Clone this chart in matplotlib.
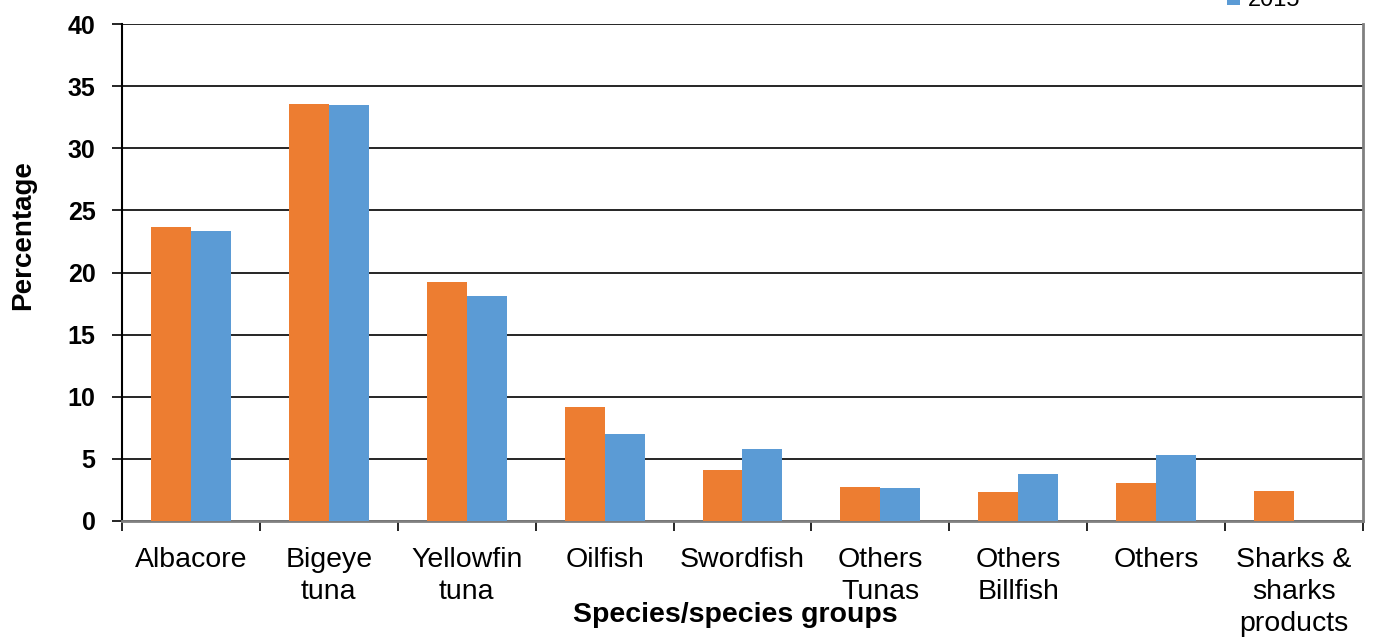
import matplotlib
matplotlib.use("Agg")
import matplotlib.pyplot as plt
import numpy as np
from matplotlib.ticker import FixedLocator

categories = ["Albacore", "Bigeye\ntuna", "Yellowfin\ntuna", "Oilfish", "Swordfish",
              "Others\nTunas", "Others\nBillfish", "Others", "Sharks &\nsharks\nproducts"]
series_names = ["2014", "2015"]
values_2014 = [23.7, 33.6, 19.2, 9.2, 4.1, 2.75, 2.35, 3.05, 2.4]
values_2015 = [23.3, 33.5, 18.1, 7.0, 5.8, 2.65, 3.8, 5.3, 0.0]
yticks = [0, 5, 10, 15, 20, 25, 30, 35, 40]

plt.rcParams['font.family'] = ['Liberation Sans', 'DejaVu Sans']

fig = plt.figure(figsize=(13.78, 6.42), dpi=100)
ax = fig.add_axes([122/1378, 1-521/642, (1363-122)/1378, (521-24)/642])

x = np.arange(len(categories))
w = 0.29
b1 = ax.bar(x - w/2, values_2014, w, color="#ED7D31", label=series_names[0], zorder=3)
b2 = ax.bar(x + w/2, values_2015, w, color="#5B9BD5", label=series_names[1], zorder=3)

ax.set_xlim(-0.5, len(categories) - 0.5)
ax.set_ylim(0, 40)
ax.set_yticks(yticks)
ax.yaxis.grid(True, color="black", linewidth=1.2, zorder=0)
ax.set_axisbelow(True)

# category boundary ticks + centered labels
ax.xaxis.set_major_locator(FixedLocator(np.arange(-0.5, len(categories), 1.0)))
ax.xaxis.set_minor_locator(FixedLocator(x))
ax.set_xticklabels([""] * (len(categories) + 1))
ax.set_xticks(x, categories, minor=True)
ax.tick_params(axis="x", which="major", length=7, width=1.2, color="black", direction="out")
ax.tick_params(axis="x", which="minor", length=0, pad=19, labelsize=20.5)
ax.tick_params(axis="y", length=7, width=1.2, direction="out", labelsize=18, pad=12)
for lab in ax.get_yticklabels():
    lab.set_fontweight("bold")
for lab in ax.get_xticklabels(minor=True):
    lab.set_linespacing(1.3)

ax.spines["left"].set_color("black")
ax.spines["left"].set_linewidth(1.5)
ax.spines["bottom"].set_color("#808080")
ax.spines["bottom"].set_linewidth(2)
ax.spines["right"].set_color("#808080")
ax.spines["right"].set_linewidth(2)
ax.spines["top"].set_visible(False)

ax.set_ylabel("Percentage", fontsize=20, fontweight="bold")
ax.yaxis.set_label_coords(-0.0693, 0.575)
ax.set_xlabel("Species/species groups", fontsize=20.5, fontweight="bold")
ax.xaxis.set_label_coords(0.494, -0.162)

leg = fig.legend(handles=[b1, b2], labels=series_names, loc="lower left",
                 bbox_to_anchor=(1218/1378, 0.968), frameon=False, fontsize=17,
                 handlelength=0.55, handleheight=0.55, handletextpad=0.3,
                 labelspacing=0.2, borderaxespad=0)

fig.savefig("out.png", dpi=100)
